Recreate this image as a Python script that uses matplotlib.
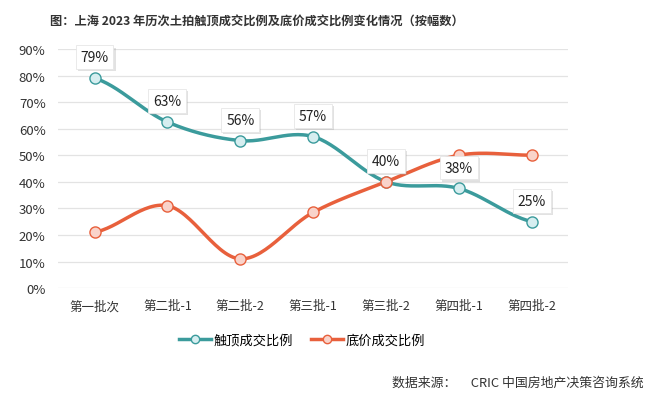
import numpy as np
import matplotlib
matplotlib.use('Agg')
import matplotlib.pyplot as plt
import matplotlib.patheffects as pe
from matplotlib.ticker import PercentFormatter

plt.rcParams['font.family'] = ['Noto Sans CJK SC', 'DejaVu Sans']

categories = ['第一批次', '第二批-1', '第二批-2', '第三批-1', '第三批-2', '第四批-1', '第四批-2']
top_ratio = [79, 62.5, 55.5, 57, 40, 37.5, 25]
top_labels = ['79%', '63%', '56%', '57%', '40%', '38%', '25%']
floor_ratio = [21, 31, 11, 28.5, 40, 50, 50]

teal = '#3b9b9c'
red = '#e8603c'


def smooth(xs, ys, n=30):
    # catmull-rom style smoothing, like Excel's smoothed line
    xs = np.asarray(xs, float)
    ys = np.asarray(ys, float)
    px = np.concatenate([[2 * xs[0] - xs[1]], xs, [2 * xs[-1] - xs[-2]]])
    py = np.concatenate([[ys[0]], ys, [ys[-1]]])
    ox, oy = [], []
    for i in range(1, len(px) - 2):
        t = np.linspace(0, 1, n)
        for arr, out in ((px, ox), (py, oy)):
            p0, p1, p2, p3 = arr[i - 1], arr[i], arr[i + 1], arr[i + 2]
            out.extend(0.5 * ((2 * p1) + (-p0 + p2) * t
                              + (2 * p0 - 5 * p1 + 4 * p2 - p3) * t ** 2
                              + (-p0 + 3 * p1 - 3 * p2 + p3) * t ** 3))
    return np.array(ox), np.array(oy)


fig = plt.figure(figsize=(6.6, 4.06), dpi=100)
ax = fig.add_axes([0.088, 0.288, 0.773, 0.589])

x = np.arange(len(categories))
for vals, col, face, name in ((top_ratio, teal, '#d6eef0', '触顶成交比例'),
                              (floor_ratio, red, '#f9d3ca', '底价成交比例')):
    sx, sy = smooth(x, vals)
    ax.plot(sx, sy, color=col, lw=2.5, solid_capstyle='round', zorder=2)
    ax.plot(x, vals, ls='none', marker='o', ms=8, mfc=face, mec=col, mew=1.0, zorder=3)
    ax.plot([], [], color=col, lw=2.5, marker='o', ms=6, mfc=face, mec=col, label=name)

for i, (v, lab) in enumerate(zip(top_ratio, top_labels)):
    t = ax.annotate(lab, (x[i], v), xytext=(0, 15), textcoords='offset points',
                    ha='center', va='center', fontsize=10, color='#222222', zorder=4,
                    bbox=dict(boxstyle='square,pad=0.35', fc='white', ec='#e6e6e6', lw=0.6))
    t.get_bbox_patch().set_path_effects([
        pe.SimplePatchShadow(offset=(1.5, -1.5), shadow_rgbFace='#a0a0a0', alpha=0.3),
        pe.Normal()])

ax.set_xlim(-0.5, len(categories) - 0.5)
ax.set_ylim(0, 90)
ax.set_yticks(np.arange(0, 91, 10))
ax.yaxis.set_major_formatter(PercentFormatter(decimals=0))
ax.set_xticks(x)
ax.set_xticklabels(categories)
ax.grid(axis='y', color='#e3e3e3', lw=0.9)
ax.set_axisbelow(True)
for s in ax.spines.values():
    s.set_visible(False)
ax.tick_params(length=0, labelsize=9.5, colors='#333333')
ax.tick_params(axis='y', pad=9)
ax.tick_params(axis='x', pad=8, labelsize=9)

ax.legend(loc='upper center', bbox_to_anchor=(0.478, -0.14), ncol=2, frameon=False,
          fontsize=9.5, handlelength=2.4, columnspacing=1.4, handletextpad=0.2)

fig.text(0.075, 0.945, '图：上海 2023 年历次土拍触顶成交比例及底价成交比例变化情况（按幅数）',
         fontsize=8.8, fontweight='semibold', color='#333333', va='center')
fig.text(0.975, 0.057, '数据来源：     CRIC 中国房地产决策咨询系统',
         fontsize=9.3, color='#333333', ha='right', va='center')

fig.savefig('out.png', dpi=100)
